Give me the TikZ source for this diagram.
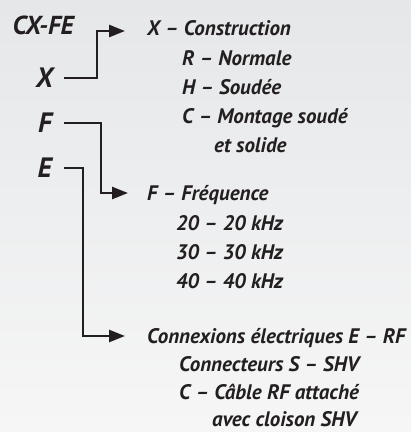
\documentclass[tikz,border=0pt]{standalone}
\usepackage{fontspec}
\setmainfont{PT Sans}
\usetikzlibrary{arrows.meta}
\definecolor{ink}{HTML}{231F20}
\definecolor{bgtop}{HTML}{E5E7E9}
\definecolor{bgbot}{HTML}{F6F6F6}
\tikzset{
  txt/.style={anchor=base west, inner sep=0pt, text=ink, font=\fontsize{21}{21}\selectfont\bfseries\itshape, text height=14pt, text depth=0pt},
  big/.style={anchor=base east, inner sep=0pt, text=ink, font=\fontsize{28}{28}\selectfont\bfseries\itshape, text height=18pt, text depth=0pt},
  conn/.style={draw=ink, line width=2.5pt, -{Triangle[length=16pt,width=12pt]}}
}
\begin{document}
\begin{tikzpicture}[x=1pt,y=1pt]
\shade[top color=bgtop, bottom color=bgbot] (0,0) rectangle (411,-432);
\useasboundingbox (0,0) rectangle (411,-432);
% left labels
\node[big, font=\fontsize{26}{26}\selectfont\bfseries\itshape] (lCX) at (74,-34) {CX-FE};
\node[big] (lX) at (53,-87) {X};
\node[big] (lF) at (52,-132) {F};
\node[big] (lE) at (52,-177) {E};
% X block
\node[txt] (tX) at (147,-35) {X – Construction};
\node[txt] (tR) at (182,-65) {R – Normale};
\node[txt] (tH) at (182,-94) {H – Soudée};
\node[txt] (tC) at (182,-123) {C – Montage soudé};
\node[txt] (tC2) at (214,-152) {et solide};
% F block
\node[txt] (tF) at (147,-200) {F – Fréquence};
\node[txt] (t20) at (176,-230) {20 – 20 kHz};
\node[txt] (t30) at (176,-259) {30 – 30 kHz};
\node[txt] (t40) at (176,-288) {40 – 40 kHz};
% E block
\node[txt] (tE) at (147,-343) {Connexions électriques E – RF};
\node[txt] (tS) at (179,-371) {Connecteurs S – SHV};
\node[txt] (tCab) at (179,-399) {C – Câble RF attaché};
\node[txt] (tCab2) at (212,-426) {avec cloison SHV};
% connectors
\draw[conn] ([xshift=11pt]lX.east) -| ([xshift=-50pt,yshift=-3pt]tX.west) -- ([xshift=-22pt,yshift=-3pt]tX.west);
\draw[conn] ([xshift=12pt]lF.east) -| ([xshift=-46pt]tF.west) -- ([xshift=-19pt]tF.west);
\draw[conn] ([xshift=12pt]lE.east) -| ([xshift=-64pt]tE.west) -- ([xshift=-22pt]tE.west);
\end{tikzpicture}
\end{document}
